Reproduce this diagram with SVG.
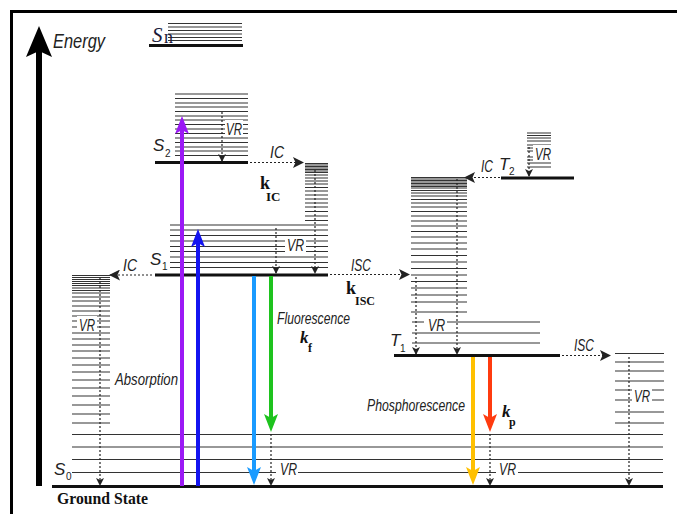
<svg xmlns="http://www.w3.org/2000/svg" width="677" height="514" viewBox="0 0 677 514">
<style>
.lv{stroke:#333;stroke-width:1.2;fill:none}
.thick{stroke:#111;stroke-width:3;fill:none}
.dot{stroke:#222;stroke-width:1.2;stroke-dasharray:2 2;fill:none}
.lab{font-family:"Liberation Sans",Arial,sans-serif;font-style:italic;fill:#222}
.sub{font-family:"Liberation Sans",Arial,sans-serif;fill:#222;font-size:10px}
.bk{font-family:"Liberation Serif","Times New Roman",serif;font-weight:bold;fill:#111}
.wh{fill:#fff}
</style>
<defs>
<marker id="ah" markerUnits="userSpaceOnUse" markerWidth="8" markerHeight="8" refX="7" refY="4" orient="auto">
<path d="M0,0 L8,4 L0,8 L2,4 z" fill="#222"/>
</marker>
<marker id="ahb" markerUnits="userSpaceOnUse" markerWidth="11" markerHeight="11" refX="10" refY="5.5" orient="auto">
<path d="M0,0 L11,5.5 L0,11 L2.5,5.5 z" fill="#222"/>
</marker>
</defs>

<g id="frame">
<line x1="10" y1="11.5" x2="677" y2="11.5" stroke="#000" stroke-width="3"/>
<line x1="11.5" y1="10" x2="11.5" y2="514" stroke="#000" stroke-width="3"/>
</g>

<g id="energy-axis">
<line x1="39" y1="50" x2="39" y2="486" stroke="#000" stroke-width="6"/>
<polygon points="39,26 26,57 39,51 52,57" fill="#000"/>
<text x="53" y="48" class="lab" font-size="21" textLength="52" lengthAdjust="spacingAndGlyphs">Energy</text>
</g>

<g id="Sn">
<path class="lv" d="M168,23.5H242M168,27H242M168,30.5H242M168,34H242M168,37.5H242M168,40.5H242"/>
<line class="thick" x1="149" y1="45.5" x2="243" y2="45.5"/>
<rect class="wh" x="151" y="27" width="17" height="16"/>
<text x="152" y="42" font-family="Liberation Serif,serif" font-style="italic" font-size="21" fill="#1b1b3a">S</text>
<text x="164" y="43" font-family="Liberation Serif,serif" font-size="18" fill="#1b1b3a">n</text>
</g>

<g id="S2">
<path class="lv" d="M175,94H248M175,98.5H248M175,103H248M175,107H248M175,111.5H248M175,116H248M175,120H248M175,124.5H248M175,129H248M175,133.5H248M175,138H248M175,142.5H248M175,147H248M175,151H248M175,155.5H248"/>
<rect class="wh" x="225" y="120" width="18" height="17"/>
<text x="226" y="135" class="lab" font-size="16" textLength="16" lengthAdjust="spacingAndGlyphs">VR</text>
<line class="thick" x1="155" y1="162.5" x2="248" y2="162.5"/>
<text x="153" y="151" class="lab" font-size="17">S</text>
<text x="165" y="157" class="sub">2</text>
</g>

<g id="S1">
<path class="lv" d="M305,163.5H328M305,165H328M305,166.5H328M305,168H328M305,169.5H328M305,171H328M305,172.5H328M305,175H328M305,178H328M305,181H328M305,184H328M305,187.5H328M305,191H328M305,195H328M305,199H328M305,203H328M305,207H328M305,211.5H328M305,216H328M305,220.5H328"/>
<path class="lv" d="M170,225H328M170,230H328M170,235.5H328M170,241H328M170,246.5H328M170,251.5H328M170,257H328M170,262.5H328M170,267.5H328"/>
<rect class="wh" x="285" y="236" width="21" height="16"/>
<text x="287" y="251" class="lab" font-size="16" textLength="17" lengthAdjust="spacingAndGlyphs">VR</text>
<line class="thick" x1="155" y1="275" x2="328" y2="275"/>
<text x="150" y="265" class="lab" font-size="17">S</text>
<text x="162" y="270" class="sub">1</text>
</g>

<g id="S0-left-stack">
<path class="lv" d="M72,275.5H110M72,277.5H110M72,279.5H110M72,281.5H110M72,283.5H110M72,285.5H110M72,288H110M72,290.5H110M72,293H110M72,297H110M72,301H110M72,306H110M72,311H110M72,316H110M72,321H110M72,327H110M72,333H110M72,339H110M72,345H110M72,351H110M72,358H110M72,365H110M72,372H110M72,380H110M72,388H110M72,396H110M72,405H110M72,414H110M72,423H110"/>
<rect class="wh" x="77" y="316" width="20" height="16"/>
<text x="79" y="331" class="lab" font-size="16" textLength="16" lengthAdjust="spacingAndGlyphs">VR</text>
</g>

<g id="S0">
<path class="lv" d="M72,434.5H663M72,447H663M72,459.5H663M72,472.5H663"/>
<rect class="wh" x="276" y="461" width="22" height="15"/>
<rect class="wh" x="496" y="461" width="22" height="15"/>
<text x="280" y="475" class="lab" font-size="16" textLength="17" lengthAdjust="spacingAndGlyphs">VR</text>
<text x="499" y="475" class="lab" font-size="16" textLength="17" lengthAdjust="spacingAndGlyphs">VR</text>
<line class="thick" x1="52" y1="486.5" x2="663" y2="486.5"/>
<text x="54" y="475" class="lab" font-size="17">S</text>
<text x="66" y="480" class="sub">0</text>
<text x="57" y="504" class="bk" font-size="17" textLength="91" lengthAdjust="spacingAndGlyphs">Ground State</text>
</g>

<g id="T2">
<path class="lv" d="M527,133H551M527,135.5H551M527,138H551M527,141H551M527,145H551M527,148H551M527,151H551M527,157H551M527,160H551M527,163H551M527,167H551"/>
<rect class="wh" x="533" y="145" width="19" height="16"/>
<text x="535" y="160" class="lab" font-size="16" textLength="16" lengthAdjust="spacingAndGlyphs">VR</text>
<line class="thick" x1="501" y1="178" x2="574" y2="178"/>
<text x="499" y="170" class="lab" font-size="17">T</text>
<text x="509" y="175" class="sub">2</text>
</g>

<g id="T1">
<path class="lv" d="M411,177.5H467M411,179H467M411,180.5H467M411,182H467M411,183.5H467M411,185H467M411,186.5H467M411,188H467M411,190.5H467M411,193H467M411,196H467M411,199.5H467M411,203H467M411,207H467M411,211.5H467M411,216H467M411,221H467M411,226H467M411,231.5H467M411,237H467M411,243H467M411,249H467M411,255.5H467M411,262H467M411,268.5H467M411,275H467M411,281.5H467M411,288H467M411,295H467M411,302H467M411,312H467"/>
<path class="lv" d="M412,322H540M412,333H540M412,343H540"/>
<rect class="wh" x="424" y="316" width="23" height="16"/>
<text x="428" y="331" class="lab" font-size="16" textLength="17" lengthAdjust="spacingAndGlyphs">VR</text>
<line class="thick" x1="394" y1="355.5" x2="560" y2="355.5"/>
<text x="390" y="346" class="lab" font-size="17">T</text>
<text x="400" y="352" class="sub">1</text>
</g>

<g id="S0-right-stack">
<path class="lv" d="M615,353.5H664M615,362H664M615,371H664M615,381H664M615,390H664M615,400H664M615,412H664M615,423H664"/>
<rect class="wh" x="632" y="387" width="20" height="16"/>
<text x="634" y="402" class="lab" font-size="16" textLength="16" lengthAdjust="spacingAndGlyphs">VR</text>
</g>

<g id="connectors">
<line class="dot" x1="222" y1="112" x2="222" y2="161" marker-end="url(#ah)"/>
<line class="dot" x1="276" y1="228" x2="276" y2="273" marker-end="url(#ah)"/>
<line class="dot" x1="315" y1="170" x2="315" y2="273" marker-end="url(#ah)"/>
<line class="dot" x1="100" y1="278" x2="100" y2="485" marker-end="url(#ah)"/>
<line class="dot" x1="271" y1="434" x2="271" y2="485" marker-end="url(#ah)"/>
<line class="dot" x1="490" y1="434" x2="490" y2="485" marker-end="url(#ah)"/>
<line class="dot" x1="416" y1="277" x2="416" y2="354" marker-end="url(#ah)"/>
<line class="dot" x1="457" y1="179" x2="457" y2="354" marker-end="url(#ah)"/>
<line class="dot" x1="629" y1="357" x2="629" y2="485" marker-end="url(#ah)"/>
<line class="dot" x1="529" y1="147" x2="529" y2="176" marker-end="url(#ah)"/>
<line class="dot" x1="250" y1="162.5" x2="303" y2="162.5" marker-end="url(#ahb)"/>
<text x="270" y="158" class="lab" font-size="17" textLength="14" lengthAdjust="spacingAndGlyphs">IC</text>
<line class="dot" x1="152" y1="275" x2="110" y2="275" marker-end="url(#ahb)"/>
<text x="123" y="271" class="lab" font-size="17" textLength="14" lengthAdjust="spacingAndGlyphs">IC</text>
<line class="dot" x1="330" y1="274.5" x2="409" y2="274.5" marker-end="url(#ahb)"/>
<text x="351" y="271" class="lab" font-size="17" textLength="20" lengthAdjust="spacingAndGlyphs">ISC</text>
<line class="dot" x1="500" y1="177.5" x2="465" y2="177.5" marker-end="url(#ahb)"/>
<text x="481" y="172" class="lab" font-size="17" textLength="12" lengthAdjust="spacingAndGlyphs">IC</text>
<line class="dot" x1="562" y1="355.5" x2="610" y2="355.5" marker-end="url(#ahb)"/>
<text x="574" y="351" class="lab" font-size="17" textLength="20" lengthAdjust="spacingAndGlyphs">ISC</text>
<text x="260" y="189" class="bk" font-size="18">k</text>
<text x="266" y="201" class="bk" font-size="13">IC</text>
<text x="346" y="294" class="bk" font-size="18">k</text>
<text x="355" y="305" class="bk" font-size="12">ISC</text>
<line x1="182" y1="486" x2="182" y2="128" stroke="#9b19f5" stroke-width="4"/>
<polygon points="182,116 175,134 182,130 189,134" fill="#9b19f5"/>
<line x1="198" y1="486" x2="198" y2="242" stroke="#1414f0" stroke-width="4"/>
<polygon points="198,229 191,247 198,243 205,247" fill="#1414f0"/>
<text x="115" y="385" class="lab" font-size="16" textLength="63" lengthAdjust="spacingAndGlyphs">Absorption</text>
<line x1="254" y1="276" x2="254" y2="472" stroke="#1a9bff" stroke-width="4"/>
<polygon points="254,485 247,467 254,471 261,467" fill="#1a9bff"/>
<line x1="271" y1="276" x2="271" y2="419" stroke="#1ec31e" stroke-width="4"/>
<polygon points="271,432 264,414 271,418 278,414" fill="#1ec31e"/>
<text x="277" y="324" class="lab" font-size="16" textLength="73" lengthAdjust="spacingAndGlyphs">Fluorescence</text>
<text x="300" y="343" font-family="Liberation Serif,serif" font-style="italic" font-weight="bold" font-size="17" fill="#111">k</text>
<text x="308" y="352" class="bk" font-size="12">f</text>
<line x1="473" y1="357" x2="473" y2="472" stroke="#ffc000" stroke-width="4"/>
<polygon points="473,485 466,467 473,471 480,467" fill="#ffc000"/>
<line x1="490" y1="357" x2="490" y2="419" stroke="#ff3b0f" stroke-width="4"/>
<polygon points="490,432 483,414 490,418 497,414" fill="#ff3b0f"/>
<text x="367" y="411" class="lab" font-size="16" textLength="98" lengthAdjust="spacingAndGlyphs">Phosphorescence</text>
<text x="502" y="417" font-family="Liberation Serif,serif" font-style="italic" font-weight="bold" font-size="17" fill="#111">k</text>
<text x="509" y="426" class="bk" font-size="12">p</text>
</g>
</svg>
